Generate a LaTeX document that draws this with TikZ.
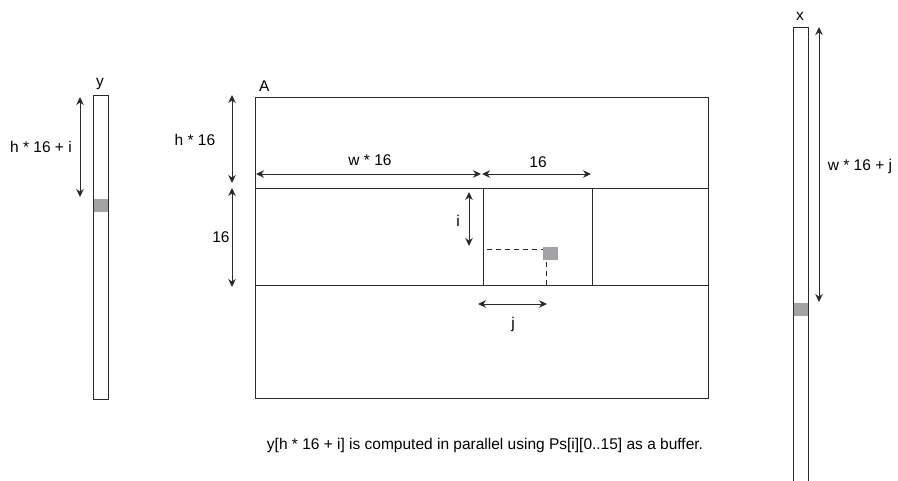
\documentclass[tikz,border=0pt]{standalone}
\usepackage{fontspec}
\setmainfont{Liberation Sans}
\usetikzlibrary{arrows.meta}
\definecolor{cellgray}{HTML}{A3A3A6}
\definecolor{linec}{HTML}{2A2A2A}
\begin{document}
\begin{tikzpicture}[x=1pt,y=-1pt,
  line/.style={draw=linec,line width=1pt},
  dimarrow/.style={draw=linec,line width=0.9pt,{Stealth[length=8pt,width=7.5pt]}-{Stealth[length=8pt,width=7.5pt]}},
  lbl/.style={font=\fontsize{15.5}{18}\selectfont,inner sep=0pt,text=black},
  cell/.style={fill=cellgray,draw=none}]
\useasboundingbox (0,0) rectangle (898,481);
% y vector
\path[line] (93,96) rectangle (108,400);
\fill[cellgray] (93.5,199) rectangle (107.5,212);
\node[lbl] (ylab) at (100,84) {y};
\coordinate (ya) at (80,97);
\coordinate (yb) at (80,197);
\draw[dimarrow] (ya) -- (yb);
\node[lbl] (ylbl) at (41,147) {h * 16 + i};
% matrix A
\path[line] (255,98) rectangle (708,399);
\node[lbl,anchor=west] (Alab) at (259,86) {A};
\coordinate (r1l) at (255,189); \coordinate (r1r) at (708,189);
\coordinate (r2l) at (255,286); \coordinate (r2r) at (708,286);
\draw[line] (r1l) -- (r1r);
\draw[line] (r2l) -- (r2r);
\path[line] (483,189) rectangle (592,286);
% h*16 arrows
\coordinate (h1a) at (232,95); \coordinate (h1b) at (232,183);
\draw[dimarrow] (h1a) -- (h1b);
\node[lbl] (hlab) at (195,140) {h * 16};
\coordinate (h2a) at (232,188); \coordinate (h2b) at (232,287);
\draw[dimarrow] (h2a) -- (h2b);
\node[lbl] (h16) at (221,237) {16};
% w*16 arrows
\coordinate (w1a) at (256,174); \coordinate (w1b) at (481,174);
\draw[dimarrow] (w1a) -- (w1b);
\node[lbl] (wlab) at (370,160) {w * 16};
\coordinate (w2a) at (482,174); \coordinate (w2b) at (591,174);
\draw[dimarrow] (w2a) -- (w2b);
\node[lbl] (w16) at (538,162) {16};
% i, j
\coordinate (ia) at (469,192); \coordinate (ib) at (469,246);
\draw[dimarrow] (ia) -- (ib);
\node[lbl] (ilab) at (458,221) {i};
\fill[cellgray] (543,247) rectangle (558,260);
\coordinate (dh1) at (487,249); \coordinate (dh2) at (543,249);
\draw[linec,line width=0.8pt,dash pattern=on 5pt off 4pt] (dh1) -- (dh2);
\coordinate (dv1) at (546,262); \coordinate (dv2) at (546,286);
\draw[linec,line width=0.8pt,dash pattern=on 5pt off 4pt] (dv1) -- (dv2);
\coordinate (ja) at (478,304); \coordinate (jb) at (547,304);
\draw[dimarrow] (ja) -- (jb);
\node[lbl] (jlab) at (513,324) {j};
% x vector
\draw[line] (793,481) -- (793,28) -- (808,28) -- (808,481);
\fill[cellgray] (793.5,303) rectangle (807.5,316);
\node[lbl] (xlab) at (800,16) {x};
\coordinate (xa) at (819,27); \coordinate (xb) at (819,302);
\draw[dimarrow] (xa) -- (xb);
\node[lbl] (xlbl) at (860,166) {w * 16 + j};
% caption
\node[lbl] (cap) at (485,445) {y[h * 16 + i] is computed in parallel using Ps[i][0..15] as a buffer.};
\end{tikzpicture}
\end{document}
